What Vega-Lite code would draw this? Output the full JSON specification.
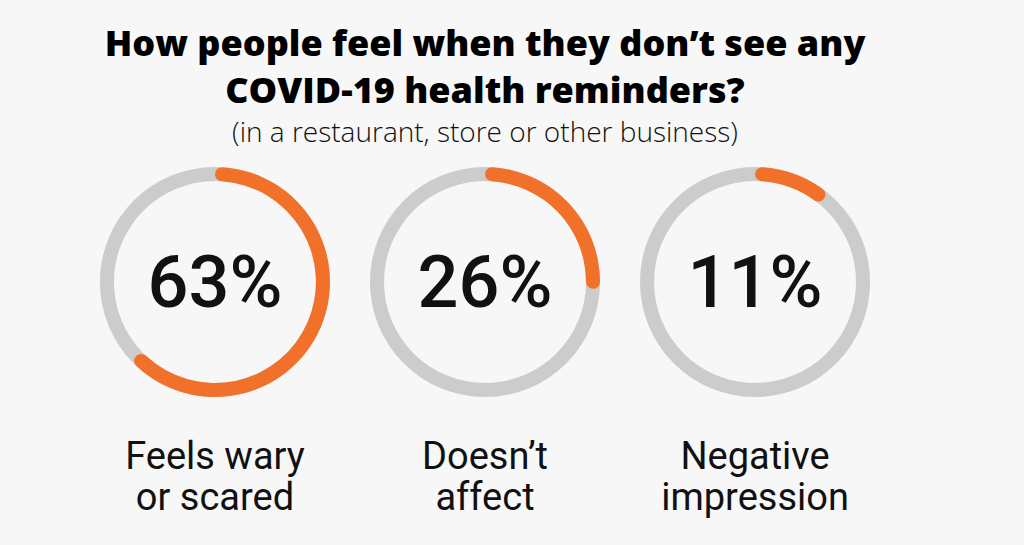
{
  "$schema": "https://vega.github.io/schema/vega-lite/v6.json",
  "width": 970,
  "height": 236,
  "padding": {"left": 0, "top": 27, "right": 54, "bottom": 40},
  "autosize": {"type": "pad"},
  "background": "#f7f7f7",
  "config": {"view": {"stroke": null}},
  "title": {
    "text": ["How people feel when they don’t see any", "COVID-19 health reminders?"],
    "subtitle": "(in a restaurant, store or other business)",
    "font": "Open Sans",
    "fontSize": 36,
    "fontWeight": 800,
    "lineHeight": 47,
    "color": "#000000",
    "subtitleFont": "Open Sans",
    "subtitleFontSize": 28,
    "subtitleFontWeight": 300,
    "subtitleColor": "#111111",
    "subtitlePadding": 9,
    "offset": 15,
    "anchor": "middle"
  },
  "data": {
    "values": [
      {"cat": "Feels wary or scared", "pct": 63, "pctLabel": "63%", "label": "Feels wary\nor scared"},
      {"cat": "Doesn’t affect", "pct": 26, "pctLabel": "26%", "label": "Doesn’t\naffect"},
      {"cat": "Negative impression", "pct": 11, "pctLabel": "11%", "label": "Negative\nimpression"}
    ]
  },
  "encoding": {
    "x": {"field": "cat", "type": "nominal", "sort": null, "scale": {"type": "point", "padding": 0.796}, "axis": null}
  },
  "layer": [
    {
      "mark": {"type": "arc", "innerRadius": 101, "outerRadius": 115, "theta": 0, "theta2": 6.2832, "color": "#cccccc"}
    },
    {
      "mark": {"type": "arc", "innerRadius": 101, "outerRadius": 115, "cornerRadius": 7, "color": "#f2712a"},
      "encoding": {
        "theta": {"field": "pct", "type": "quantitative", "stack": null, "scale": {"domain": [0, 100], "range": [0, 6.2832]}},
        "theta2": {"datum": 0}
      }
    },
    {
      "mark": {"type": "text", "font": "Roboto", "fontSize": 72, "fontWeight": 500, "baseline": "alphabetic", "dy": 25, "color": "#111111"},
      "encoding": {"text": {"field": "pctLabel"}}
    },
    {
      "mark": {"type": "text", "font": "Roboto", "fontSize": 38, "lineHeight": 41, "lineBreak": "\n", "baseline": "alphabetic", "dy": 187, "color": "#111111"},
      "encoding": {"text": {"field": "label"}}
    }
  ]
}
